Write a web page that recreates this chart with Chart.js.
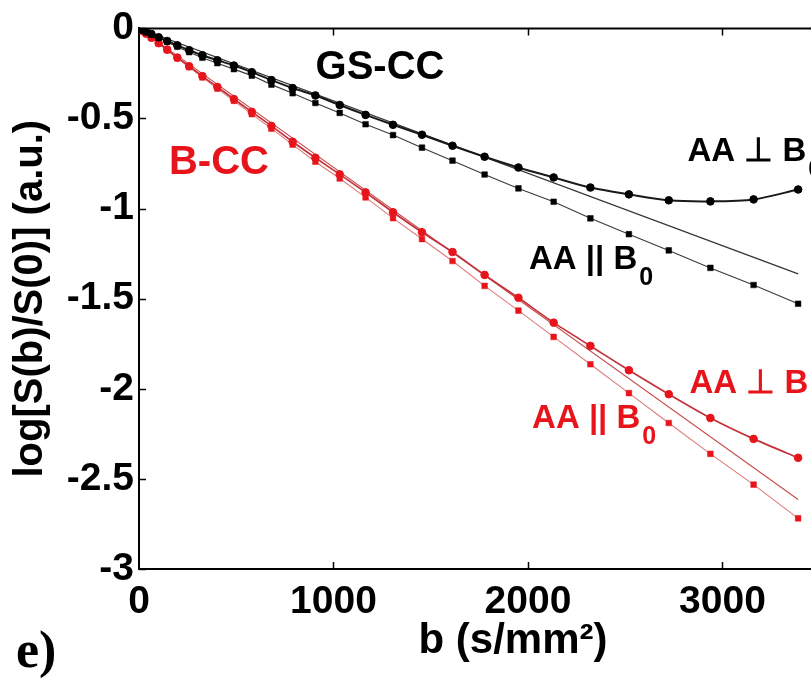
<!DOCTYPE html>
<html><head><meta charset="utf-8">
<script src="https://cdn.jsdelivr.net/npm/chart.js@4.4.0/dist/chart.umd.min.js"></script>
<style>html,body{margin:0;padding:0;background:#fff;overflow:hidden;width:811px;height:685px}canvas{display:block}</style>
</head><body>
<canvas id="c" width="900" height="685"></canvas>
<script>
// b-values (s/mm^2)
const bValues = [0,4,16,36,64,101,145,197,258,326,403,488,580,681,790,907,1032,1165,1306,1455,1612,1777,1951,2132,2321,2519,2724,2938,3160,3389];
// GS-CC, AA perpendicular to B0 (black circles)
const gsPerp = [0,-0.002,-0.008,-0.017,-0.031,-0.049,-0.070,-0.094,-0.121,-0.149,-0.177,-0.206,-0.243,-0.287,-0.331,-0.372,-0.425,-0.480,-0.535,-0.590,-0.651,-0.712,-0.772,-0.827,-0.883,-0.921,-0.954,-0.960,-0.949,-0.894];
// GS-CC, AA parallel to B0 (black squares)
const gsPar = [0,-0.002,-0.008,-0.019,-0.033,-0.052,-0.075,-0.102,-0.132,-0.163,-0.193,-0.226,-0.262,-0.312,-0.360,-0.414,-0.469,-0.532,-0.592,-0.662,-0.734,-0.811,-0.888,-0.962,-1.054,-1.142,-1.232,-1.329,-1.424,-1.528];
// B-CC, AA perpendicular to B0 (red circles)
const bPerp = [0,-0.003,-0.013,-0.029,-0.052,-0.082,-0.118,-0.162,-0.210,-0.265,-0.325,-0.392,-0.463,-0.541,-0.629,-0.718,-0.810,-0.910,-1.020,-1.131,-1.241,-1.368,-1.495,-1.633,-1.762,-1.897,-2.030,-2.162,-2.278,-2.383];
// B-CC, AA parallel to B0 (red squares)
const bPar = [0,-0.003,-0.013,-0.030,-0.053,-0.084,-0.121,-0.166,-0.215,-0.272,-0.334,-0.402,-0.476,-0.556,-0.645,-0.740,-0.833,-0.938,-1.053,-1.169,-1.291,-1.429,-1.566,-1.712,-1.864,-2.024,-2.190,-2.361,-2.532,-2.719];
// mono-exponential fit lines
const fitB = [0, 3389];
const gsFit = [0, -1.362];
const bFit = [0, -2.614];
// ticks
const xTicks = [0, 1000, 2000, 3000];
const yTicks = [0, -0.5, -1, -1.5, -2, -2.5, -3];

// text annotations (data coordinates)
const annotations = [
  {text:'GS-CC', x:1239, y:-0.28, size:40, color:'#000', align:'center'},
  {text:'B-CC', x:411, y:-0.81, size:40, color:'#e8141b', align:'center'},
  {text:'AA \u22A5 B', sub:'0', x:2820, y:-0.734, size:33, color:'#000', align:'left'},
  {text:'AA || B', sub:'0', x:2005, y:-1.335, size:33, color:'#000', align:'left'},
  {text:'AA \u22A5 B', sub:'0', x:2830, y:-2.024, size:33, color:'#e8141b', align:'left'},
  {text:'AA || B', sub:'0', x:2021, y:-2.217, size:33, color:'#e8141b', align:'left'}
];

const FONT = '"Liberation Sans", Arial, Helvetica, sans-serif';
const pts = (xs, ys) => xs.map((x, i) => ({x, y: ys[i]}));

const deco = {
  id: 'deco',
  afterDraw(chart) {
    const {ctx, chartArea: a, scales: {x, y}} = chart;
    ctx.save();
    ctx.strokeStyle = '#000';
    ctx.lineWidth = 2;
    ctx.beginPath();
    ctx.moveTo(a.left - 1, a.top); ctx.lineTo(a.right, a.top);
    ctx.stroke();
    ctx.lineWidth = 1.5;
    ctx.beginPath();
    xTicks.forEach(v => {
      const p = Math.round(x.getPixelForValue(v)) + 0.5;
      if (v !== 0) {
        ctx.moveTo(p, a.bottom); ctx.lineTo(p, a.bottom - 7);
        ctx.moveTo(p, a.top); ctx.lineTo(p, a.top + 7);
      }
    });
    yTicks.forEach(v => {
      const p = Math.round(y.getPixelForValue(v)) + 0.5;
      ctx.moveTo(a.left, p); ctx.lineTo(a.left + 7, p);
    });
    ctx.stroke();

    annotations.forEach(an => {
      ctx.font = `bold ${an.size}px ${FONT}`;
      ctx.fillStyle = an.color;
      ctx.textAlign = 'left';
      ctx.textBaseline = 'alphabetic';
      let px = x.getPixelForValue(an.x);
      const py = y.getPixelForValue(an.y);
      const w = ctx.measureText(an.text).width;
      if (an.align === 'center') px -= w / 2;
      ctx.fillText(an.text, px, py);
      if (an.sub) {
        const ss = Math.round(an.size * 0.76);
        ctx.font = `bold ${ss}px ${FONT}`;
        ctx.fillText(an.sub, px + w + 2, py + an.size * 0.48);
      }
    });

    ctx.font = 'bold 52px "Liberation Serif", "Times New Roman", serif';
    ctx.fillStyle = '#000';
    ctx.textAlign = 'left';
    ctx.textBaseline = 'alphabetic';
    ctx.fillText('e)', 16, 667);
    ctx.restore();
  }
};

new Chart(document.getElementById('c'), {
  type: 'line',
  data: {
    datasets: [
      {data: pts(bValues, gsPerp), borderColor:'#1a1a1a', borderWidth:2, tension:0.3,
       pointStyle:'circle', pointRadius:3.8, pointBackgroundColor:'#000', pointBorderColor:'#000', pointBorderWidth:1},
      {data: pts(bValues, gsPar), borderColor:'#3a3a3a', borderWidth:1.1, tension:0,
       pointStyle:'rect', pointRadius:4, pointBackgroundColor:'#000', pointBorderColor:'#000', pointBorderWidth:0.5},
      {data: pts(bValues, bPerp), borderColor:'#c4313a', borderWidth:1.7, tension:0.2,
       pointStyle:'circle', pointRadius:3.8, pointBackgroundColor:'#e8141b', pointBorderColor:'#e8141b', pointBorderWidth:1},
      {data: pts(bValues, bPar), borderColor:'#e07a7a', borderWidth:1.1, tension:0,
       pointStyle:'rect', pointRadius:4, pointBackgroundColor:'#e8141b', pointBorderColor:'#e8141b', pointBorderWidth:0.5},
      {data: pts(fitB, gsFit), borderColor:'#333', borderWidth:1.2, pointRadius:0, tension:0},
      {data: pts(fitB, bFit), borderColor:'#c84a4a', borderWidth:1.1, pointRadius:0, tension:0}
    ]
  },
  options: {
    responsive: false,
    animation: false,
    devicePixelRatio: 1,
    layout: {padding: {top: 25, right: 13, left: 0, bottom: 0}},
    plugins: {legend: {display: false}, tooltip: {enabled: false}},
    scales: {
      x: {
        type: 'linear', min: 0, max: 3846,
        afterBuildTicks: s => { s.ticks = xTicks.map(v => ({value: v})); },
        afterFit: s => { s.height = 116; },
        grid: {display: false, drawTicks: false},
        border: {display: true, color: '#000', width: 2},
        ticks: {color:'#000', font:{family: FONT, size: 39, weight:'bold'}, padding: 10,
                maxRotation: 0, autoSkip: false, callback: v => String(v)},
        title: {display: true, text: 'b (s/mm\u00B2)', color:'#000',
                font:{family: FONT, size: 42, weight:'bold'}, padding:{top:0, bottom:18}}
      },
      y: {
        type: 'linear', min: -3, max: 0,
        afterBuildTicks: s => { s.ticks = yTicks.map(v => ({value: v})); },
        afterFit: s => { s.width = 139; },
        grid: {display: false, drawTicks: false},
        border: {display: true, color: '#000', width: 2},
        ticks: {color:'#000', font:{family: FONT, size: 39, weight:'bold'}, padding: 5,
                autoSkip: false, callback: v => String(v)},
        title: {display: true, text: 'log[S(b)/S(0)] (a.u.)', color:'#000',
                font:{family: FONT, size: 40, weight:'bold'}, padding:{top:7, bottom:0}}
      }
    }
  },
  plugins: [deco]
});
</script>
</body></html>
